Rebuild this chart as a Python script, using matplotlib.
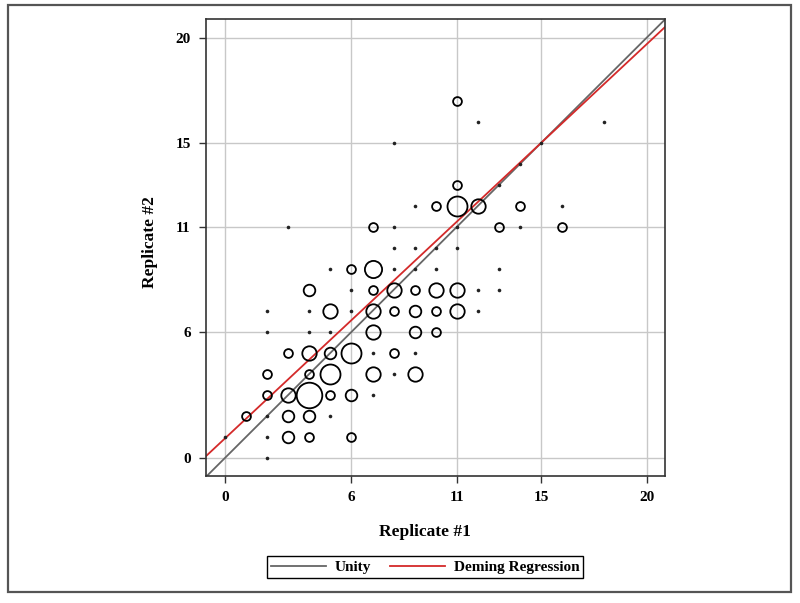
import matplotlib
matplotlib.use("Agg")
import matplotlib.pyplot as plt
from matplotlib.patches import Rectangle

plt.rcParams['font.family'] = ['Liberation Serif', 'DejaVu Serif']

# replicate pairs (x, y) and number of samples at each pair
rep1 = [2,
        0, 2, 3, 4, 6,
        1, 2, 3, 4, 5,
        2, 3, 4, 5, 6, 7,
        2, 4, 5, 7, 8, 9,
        3, 4, 5, 6, 7, 8, 9,
        2, 4, 5, 7, 9, 10,
        2, 4, 5, 6, 7, 8, 9, 10, 11, 12,
        4, 6, 7, 8, 9, 10, 11, 12, 13,
        5, 6, 7, 8, 9, 10, 13,
        8, 9, 10, 11,
        3, 7, 8, 11, 13, 14, 16,
        9, 10, 11, 12, 14, 16,
        11, 13,
        14,
        8, 15,
        12, 18,
        11]
rep2 = [0,
        1, 1, 1, 1, 1,
        2, 2, 2, 2, 2,
        3, 3, 3, 3, 3, 3,
        4, 4, 4, 4, 4, 4,
        5, 5, 5, 5, 5, 5, 5,
        6, 6, 6, 6, 6, 6,
        7, 7, 7, 7, 7, 7, 7, 7, 7, 7,
        8, 8, 8, 8, 8, 8, 8, 8, 8,
        9, 9, 9, 9, 9, 9, 9,
        10, 10, 10, 10,
        11, 11, 11, 11, 11, 11, 11,
        12, 12, 12, 12, 12, 12,
        13, 13,
        14,
        15, 15,
        16, 16,
        17]
counts = [1,
          1, 1, 3, 2, 2,
          2, 1, 3, 3, 1,
          2, 4, 8, 2, 3, 1,
          2, 2, 6, 4, 1, 4,
          2, 4, 3, 6, 1, 2, 1,
          1, 1, 1, 4, 3, 2,
          1, 1, 4, 1, 4, 2, 3, 2, 4, 1,
          3, 1, 2, 4, 2, 4, 4, 1, 1,
          1, 2, 5, 1, 1, 1, 1,
          1, 1, 1, 1,
          1, 2, 1, 1, 2, 1, 2,
          1, 2, 6, 4, 2, 1,
          2, 1,
          1,
          1, 1,
          1, 1,
          2]

ticks = [0, 6, 11, 15, 20]
deming_intercept = 0.93
deming_slope = 0.938

fig = plt.figure(figsize=(8, 6.03), dpi=100)
ax = fig.add_axes([206/800, 1 - 476/603, 459/800, 457/603])

xlim = (-0.9, 20.87)
ylim = (-0.86, 20.89)

# bubbles: radius in px grows with count, single samples are small dots
px = 72 / 100
for x, y, n in zip(rep1, rep2, counts):
    if n == 1:
        ax.plot(x, y, 'o', color='#222222', ms=2.6, mew=0, zorder=3)
    else:
        r = 1.4 * n + 1.6
        ax.plot(x, y, 'o', mfc='none', mec='black', ms=2 * r * px, mew=1.3, zorder=3)

lx = [xlim[0], xlim[1]]
ax.plot(lx, lx, color='#666666', lw=1.3, label='Unity', zorder=2)
ax.plot(lx, [deming_intercept + deming_slope * v for v in lx], color='#d42a2a', lw=1.3,
        label='Deming Regression', zorder=2)

ax.set_xlim(xlim)
ax.set_ylim(ylim)
ax.set_xticks(ticks)
ax.set_yticks(ticks)
ax.grid(True, color='#c8c8c8', lw=1.0)
ax.set_axisbelow(True)
for s in ax.spines.values():
    s.set_color('#333333')
    s.set_linewidth(1.2)
ax.tick_params(direction='out', length=5, width=1, color='#333333', labelsize=11, pad=6)
for lab in ax.get_xticklabels() + ax.get_yticklabels():
    lab.set_fontweight('bold')

ax.set_xlabel('Replicate #1', fontsize=12.5, fontweight='bold')
ax.set_ylabel('Replicate #2', fontsize=12.5, fontweight='bold')
ax.xaxis.set_label_coords(0.477, -0.1225)
ax.yaxis.set_label_coords(-0.122, 0.512)
ax.xaxis.label.set_va('center')
ax.yaxis.label.set_va('center')

leg = fig.legend(loc='center', bbox_to_anchor=(425/800, 1 - 567/603), ncol=2,
                 fancybox=False, edgecolor='black', framealpha=1,
                 handlelength=3.6, columnspacing=1.2, borderpad=0.25, handletextpad=0.6,
                 prop={'weight': 'bold', 'size': 11})
leg.get_frame().set_linewidth(1.0)

# outer frame of the figure
fig.patches.append(Rectangle((8/800, 1 - 592/603), 783/800, 587/603, transform=fig.transFigure,
                             fill=False, edgecolor='#555555', lw=1.6))

fig.savefig('out.png', dpi=100)
